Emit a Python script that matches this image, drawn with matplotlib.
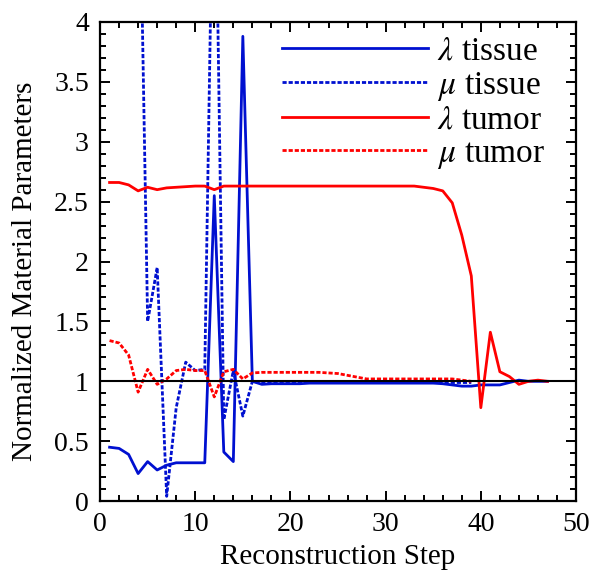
import matplotlib
matplotlib.use("Agg")
import matplotlib.pyplot as plt
from matplotlib.ticker import MultipleLocator

plt.rcParams["font.family"] = ["Liberation Serif", "DejaVu Serif"]
plt.rcParams["mathtext.fontset"] = "stix"

# reconstruction steps
steps_lam = list(range(1, 48))
steps_mu = list(range(1, 40))

lam_tissue = [0.45, 0.44, 0.39, 0.23, 0.33, 0.26, 0.30, 0.32, 0.32, 0.32,
              0.32, 2.55, 0.41, 0.33, 3.88, 1.00, 0.975, 0.98, 0.98, 0.98,
              0.98, 0.985, 0.985, 0.985, 0.985, 0.985, 0.985, 0.985, 0.985, 0.985,
              0.985, 0.985, 0.985, 0.985, 0.985, 0.98, 0.97, 0.96, 0.96, 0.97,
              0.97, 0.97, 0.99, 1.01, 1.00, 1.00, 1.00]

mu_tissue = [6.5, 6.5, 6.5, 6.0, 1.50, 1.95, 0.04, 0.78, 1.16, 1.09,
             1.10, 6.0, 0.68, 1.09, 0.71, 1.00, 0.99, 0.99, 0.99, 0.99,
             0.99, 0.99, 0.99, 0.99, 0.99, 0.99, 0.99, 0.99, 0.99, 0.99,
             0.99, 0.99, 0.99, 0.99, 0.99, 0.99, 0.99, 0.99, 0.99]

lam_tumor = [2.66, 2.66, 2.64, 2.59, 2.62, 2.60, 2.615, 2.62, 2.625, 2.63,
             2.63, 2.60, 2.63, 2.63, 2.63, 2.63, 2.63, 2.63, 2.63, 2.63,
             2.63, 2.63, 2.63, 2.63, 2.63, 2.63, 2.63, 2.63, 2.63, 2.63,
             2.63, 2.63, 2.63, 2.62, 2.61, 2.59, 2.49, 2.22, 1.88, 0.78,
             1.41, 1.08, 1.04, 0.975, 1.00, 1.01, 1.00]

mu_tumor = [1.34, 1.32, 1.22, 0.91, 1.10, 0.975, 1.02, 1.09, 1.10, 1.09,
            1.09, 0.87, 1.08, 1.10, 1.02, 1.07, 1.075, 1.075, 1.075, 1.075,
            1.075, 1.075, 1.075, 1.07, 1.065, 1.05, 1.035, 1.02, 1.02, 1.02,
            1.02, 1.02, 1.02, 1.02, 1.02, 1.02, 1.02, 1.01, 1.00]

fig = plt.figure(figsize=(5.92, 5.78), dpi=100)
ax = fig.add_axes([0.169, 0.133, 0.804, 0.829])

blue = "#0010d0"
red = "#ff0000"
dots = (0, (1.5, 0.7))
ax.plot(steps_lam, lam_tissue, color=blue, lw=2.0, label=r"$\lambda$ tissue")
ax.plot(steps_mu, mu_tissue, color=blue, lw=2.0, linestyle=dots,
        label=r"$\mu$ tissue")
ax.plot(steps_lam, lam_tumor, color=red, lw=2.0, label=r"$\lambda$ tumor")
ax.plot(steps_mu, mu_tumor, color=red, lw=2.0, linestyle=dots,
        label=r"$\mu$ tumor")
ax.axhline(1.0, color="black", lw=1.5, zorder=5)

ax.set_xlim(0, 50)
ax.set_ylim(0, 4)
ax.xaxis.set_major_locator(MultipleLocator(10))
ax.xaxis.set_minor_locator(MultipleLocator(2))
ax.yaxis.set_minor_locator(MultipleLocator(0.1))
ax.set_yticks([0, 0.5, 1, 1.5, 2, 2.5, 3, 3.5, 4])
ax.set_yticklabels(["0", "0.5", "1", "1.5", "2", "2.5", "3", "3.5", "4"])
ax.tick_params(which="both", direction="in", top=True, right=True,
               labelsize=20, width=1.4)
ax.tick_params(which="major", length=7, pad=8)
ax.tick_params(which="minor", length=4)
for sp in ax.spines.values():
    sp.set_linewidth(1.6)

ax.set_xlabel("Reconstruction Step", fontsize=21, labelpad=5)
ax.set_ylabel("Normalized Material Parameters", fontsize=21, labelpad=12)
ax.yaxis.label.set_y(0.48)

leg = ax.legend(loc="upper right", frameon=False, fontsize=24,
                handlelength=4.4, handletextpad=0.25, labelspacing=0.08,
                borderpad=0, borderaxespad=0, bbox_to_anchor=(0.935, 0.97))

fig.savefig("out.png", dpi=100)
